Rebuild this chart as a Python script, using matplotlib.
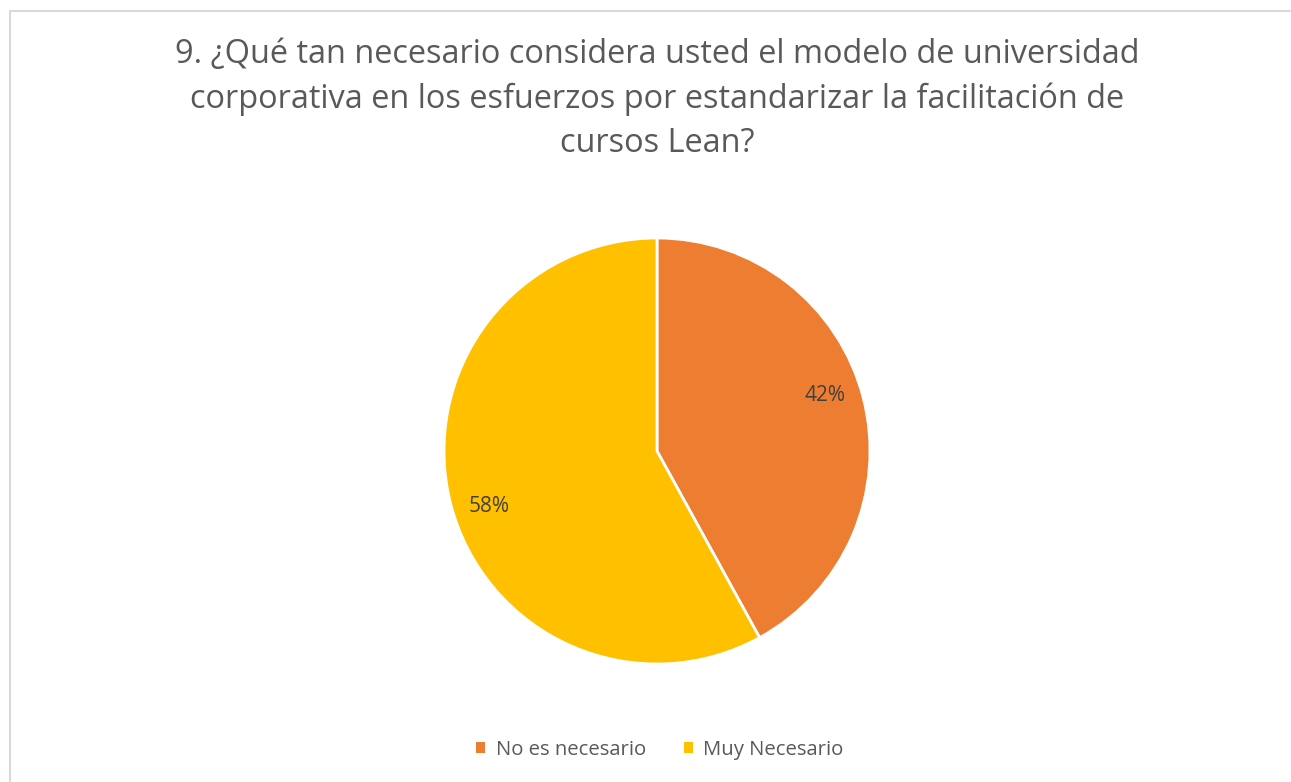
import numpy as np
import matplotlib.pyplot as plt
from matplotlib.lines import Line2D
from matplotlib.patches import Patch

# Survey answers (share of respondents)
categories = ["No es necesario", "Muy Necesario"]
shares = [42, 58]
colors = ["#ED7D31", "#FFC000"]

title = ("9. ¿Qué tan necesario considera usted el modelo de universidad\n"
         "corporativa en los esfuerzos por estandarizar la facilitación de\n"
         "cursos Lean?")

plt.rcParams["font.family"] = ["Open Sans", "DejaVu Sans"]

W, H = 1291, 782
fig = plt.figure(figsize=(W / 100, H / 100), dpi=100)

# light frame around the chart area (left and top edges visible)
fig.add_artist(Line2D([10 / W, 10 / W], [0, 1 - 11 / H], color="#D9D9D9", lw=1.5))
fig.add_artist(Line2D([10 / W, 1], [1 - 11 / H, 1 - 11 / H], color="#D9D9D9", lw=1.5))

fig.text(657 / W, 1 - 38 / H, title, ha="center", va="top", fontsize=23.4,
         color="#595959", linespacing=1.45)

cx, cy, r = 657, 451, 213
ax = fig.add_axes([(cx - r) / W, (H - cy - r) / H, 2 * r / W, 2 * r / H])
wedges, _, autotexts = ax.pie(
    shares, colors=colors, startangle=90, counterclock=False,
    autopct="%1.0f%%", pctdistance=0.83,
    wedgeprops=dict(edgecolor="white", linewidth=2),
    textprops=dict(color="#404040", fontsize=15),
)
# nudge the percentage labels a few degrees counter-clockwise
rot = np.deg2rad(4)
for t in autotexts:
    x, y = t.get_position()
    t.set_position((x * np.cos(rot) - y * np.sin(rot),
                    x * np.sin(rot) + y * np.cos(rot)))
ax.set_xlim(-1, 1)
ax.set_ylim(-1, 1)
ax.set_aspect("equal")

handles = [Patch(facecolor=c, label=l) for c, l in zip(colors, categories)]
fig.legend(handles=handles, loc="center", bbox_to_anchor=(660 / W, 1 - 750 / H),
           ncol=2, frameon=False, fontsize=14.6, labelcolor="#595959",
           handlelength=0.45, handleheight=0.45, handletextpad=0.5,
           columnspacing=1.9)

fig.savefig("out.png", dpi=100)
